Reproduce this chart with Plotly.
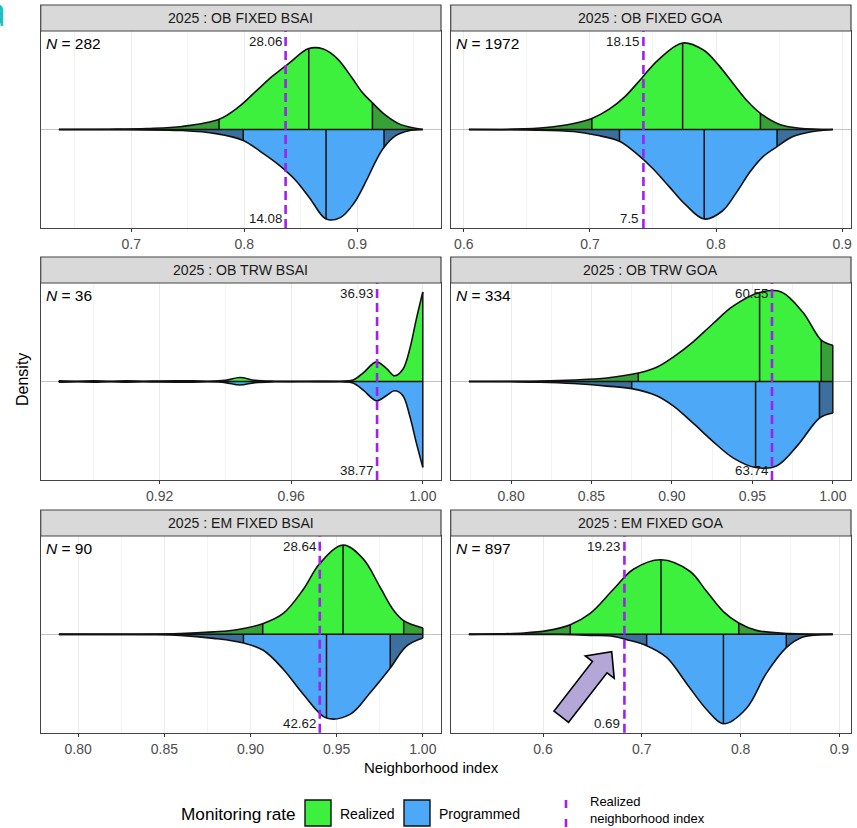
import plotly.graph_objects as go

# ---------------------------------------------------------------------------
# Data: density knots (x = neighborhood index, d = relative density) for the
# realized (upper half) and programmed (lower half) monitoring rates.
# Quantile lists hold the 2.5 %, 50 % and 97.5 % positions.
# ---------------------------------------------------------------------------
PANEL_TITLES = ["2025 : OB FIXED BSAI", "2025 : OB FIXED GOA",
                "2025 : OB TRW BSAI", "2025 : OB TRW GOA",
                "2025 : EM FIXED BSAI", "2025 : EM FIXED GOA"]
PANEL_N = [282, 1972, 36, 334, 90, 897]
REALIZED_INDEX = [0.8366, 0.7424, 0.9861, 0.9622, 0.9402, 0.6824]
LABEL_TOP = ["28.06", "18.15", "36.93", "60.55", "28.64", "19.23"]
LABEL_BOTTOM = ["14.08", "7.5", "38.77", "63.74", "42.62", "0.69"]

TICK_VALS = [[0.7, 0.8, 0.9], [0.6, 0.7, 0.8, 0.9], [0.92, 0.96, 1.00],
             [0.80, 0.85, 0.90, 0.95, 1.00], [0.80, 0.85, 0.90, 0.95, 1.00],
             [0.6, 0.7, 0.8, 0.9]]
TICK_TEXT = [["0.7", "0.8", "0.9"], ["0.6", "0.7", "0.8", "0.9"],
             ["0.92", "0.96", "1.00"],
             ["0.80", "0.85", "0.90", "0.95", "1.00"],
             ["0.80", "0.85", "0.90", "0.95", "1.00"],
             ["0.6", "0.7", "0.8", "0.9"]]
MINOR_VALS = [[0.65, 0.75, 0.85, 0.95], [0.65, 0.75, 0.85], [0.90, 0.94, 0.98],
              [0.775, 0.825, 0.875, 0.925, 0.975], [0.825, 0.875, 0.925, 0.975],
              [0.55, 0.65, 0.75, 0.85]]

# OB FIXED BSAI
P1_REAL_X = [0.636, 0.68, 0.714, 0.745, 0.7777, 0.795, 0.81, 0.825, 0.84, 0.8571,
             0.870, 0.8825, 0.895, 0.9046, 0.9134, 0.925, 0.938, 0.958]
P1_REAL_D = [0, 0.3, 1, 3, 10, 22, 37, 52, 65, 79, 78.5, 69, 51, 36, 26, 14, 5, 0]
P1_PROG_X = [0.636, 0.70, 0.745, 0.775, 0.7991, 0.815, 0.83, 0.845, 0.858, 0.8724,
             0.885, 0.897, 0.908, 0.9163, 0.9237, 0.934, 0.9456, 0.958]
P1_PROG_D = [0, 0.3, 1, 4, 10.7, 22, 34, 49, 67, 87.4, 86, 72, 50, 31, 17.4, 6, 1.3, 0]
P1_REAL_Q = [0.7777, 0.8571, 0.9134]
P1_PROG_Q = [0.7991, 0.8724, 0.9237]

# OB FIXED GOA
P2_REAL_X = [0.604, 0.64, 0.665, 0.687, 0.7015, 0.715, 0.728, 0.741, 0.754, 0.7735,
             0.79, 0.802, 0.814, 0.825, 0.8352, 0.8505, 0.8663, 0.8926]
P2_REAL_D = [0, 0.4, 2, 6, 11, 20, 33, 51, 69, 86, 79, 64, 45, 28, 16, 5, 1.3, 0]
P2_PROG_X = [0.604, 0.65, 0.687, 0.7055, 0.7234, 0.737, 0.75, 0.763, 0.776, 0.7906,
             0.805, 0.816, 0.827, 0.8373, 0.8484, 0.861, 0.8768, 0.8926]
P2_PROG_D = [0, 0.5, 2, 5.7, 11.7, 24, 39, 57, 75, 89, 81, 63, 42, 27, 17, 7, 2, 0]
P2_REAL_Q = [0.7015, 0.7735, 0.8352]
P2_PROG_Q = [0.7234, 0.7906, 0.8484]

# OB TRW BSAI
P3_REAL_X = [0.8894, 0.895, 0.90, 0.905, 0.91, 0.915, 0.92, 0.93, 0.935, 0.94, 0.9444,
             0.949, 0.955, 0.965, 0.975, 0.9788, 0.982, 0.9859, 0.989, 0.9914, 0.9939,
             0.996, 0.998, 1.0]
P3_REAL_D = [0.8, 0.3, 0.6, 0.2, 0.6, 0.3, 0.5, 0.6, 0.3, 1.2, 4, 1.2, 0.3, 0.2, 0.3,
             1.5, 9, 19.7, 13, 5.7, 12, 32, 62, 89.7]
P3_PROG_X = [0.8894, 0.895, 0.90, 0.905, 0.91, 0.915, 0.92, 0.93, 0.935, 0.94, 0.9444,
             0.949, 0.955, 0.965, 0.975, 0.9788, 0.982, 0.9859, 0.989, 0.9914, 0.9939,
             0.996, 0.998, 1.0]
P3_PROG_D = [0.8, 0.3, 0.6, 0.2, 0.6, 0.3, 0.5, 0.6, 0.3, 1.1, 3.5, 1.1, 0.3, 0.2, 0.3,
             1.5, 9, 19.3, 14, 9.3, 14, 34, 61, 86]
P3_REAL_Q = []
P3_PROG_Q = []

# OB TRW GOA
P4_REAL_X = [0.7738, 0.80, 0.8182, 0.8388, 0.8595, 0.8791, 0.8905, 0.9008, 0.9132,
             0.9256, 0.938, 0.9545, 0.968, 0.9814, 0.9928, 1.0]
P4_REAL_D = [0, 0.2, 0.5, 1.5, 3.5, 8.3, 14, 24, 39, 57, 74, 87.5, 88, 68, 40.7, 35.7]
P4_PROG_X = [0.7738, 0.80, 0.8182, 0.8388, 0.8595, 0.875, 0.8905, 0.9008, 0.9132,
             0.9256, 0.938, 0.952, 0.965, 0.978, 0.9917, 1.0]
P4_PROG_D = [0, 0.3, 0.7, 2, 4.5, 7, 14, 24, 41, 59, 75, 84.5, 83, 63, 36, 31]
P4_REAL_Q = [0.8791, 0.9545, 0.9928]
P4_PROG_Q = [0.875, 0.952, 0.9917]

# EM FIXED BSAI
P5_REAL_X = [0.7888, 0.8303, 0.8592, 0.8785, 0.892, 0.9071, 0.919, 0.9306, 0.9402,
             0.9537, 0.9653, 0.975, 0.9827, 0.9889, 1.0]
P5_REAL_D = [0, 0.1, 0.7, 2.5, 4.7, 10.7, 21, 45, 71, 89.7, 76, 48, 25, 13.7, 6.3]
P5_PROG_X = [0.7888, 0.84, 0.8592, 0.8785, 0.8959, 0.9074, 0.919, 0.9306, 0.9441,
             0.958, 0.9692, 0.9811, 0.9904, 1.0]
P5_PROG_D = [0, 0.3, 1, 4, 8.7, 16, 35, 60, 84, 80, 59, 33.7, 12, 3.7]
P5_REAL_Q = [0.9071, 0.9537, 0.9889]
P5_PROG_Q = [0.8959, 0.9441, 0.9811]

# EM FIXED GOA
P6_REAL_X = [0.525, 0.5469, 0.5805, 0.604, 0.6276, 0.6478, 0.6713, 0.6915, 0.7194,
             0.7486, 0.7655, 0.7823, 0.7981, 0.8159, 0.8495, 0.8933]
P6_REAL_D = [0, 0.3, 1.3, 3.7, 9.7, 21, 45, 65, 74.5, 63, 43, 23, 11.3, 4, 0.7, 0]
P6_PROG_X = [0.525, 0.6141, 0.6478, 0.6713, 0.6848, 0.7049, 0.7251, 0.7453, 0.7655,
             0.7826, 0.8058, 0.826, 0.8462, 0.863, 0.8933]
P6_PROG_D = [0, 0.2, 1, 2, 5.3, 11.3, 23, 49, 75, 89.3, 74, 39, 13.3, 2.7, 0]
P6_REAL_Q = [0.6276, 0.7194, 0.7981]
P6_PROG_Q = [0.7049, 0.7826, 0.8462]

REAL_X = [P1_REAL_X, P2_REAL_X, P3_REAL_X, P4_REAL_X, P5_REAL_X, P6_REAL_X]
REAL_D = [P1_REAL_D, P2_REAL_D, P3_REAL_D, P4_REAL_D, P5_REAL_D, P6_REAL_D]
PROG_X = [P1_PROG_X, P2_PROG_X, P3_PROG_X, P4_PROG_X, P5_PROG_X, P6_PROG_X]
PROG_D = [P1_PROG_D, P2_PROG_D, P3_PROG_D, P4_PROG_D, P5_PROG_D, P6_PROG_D]
REAL_Q = [P1_REAL_Q, P2_REAL_Q, P3_REAL_Q, P4_REAL_Q, P5_REAL_Q, P6_REAL_Q]
PROG_Q = [P1_PROG_Q, P2_PROG_Q, P3_PROG_Q, P4_PROG_Q, P5_PROG_Q, P6_PROG_Q]

# ---------------------------------------------------------------------------
# Styling / layout helpers (figure is laid out in pixel units)
# ---------------------------------------------------------------------------
W, H = 857, 828
FONT = "Liberation Sans, Arial, sans-serif"
REALIZED_FILL = "#3DF03D"
REALIZED_TAIL = "#37A137"
PROGRAMMED_FILL = "#4DA8F7"
PROGRAMMED_TAIL = "#3C6F9E"
PURPLE = "#A020F0"
OUTLINE = "#111111"
FRAME = "#444444"


def fx(p):
    return p / W


def fy(p):
    return 1 - p / H


COL_PX = [(40.7, 441.0), (450.7, 851.0)]
ROW_PX = [(31.0, 228.0), (283.0, 480.0), (536.0, 732.7)]
STRIP_H = 26.0

fig = go.Figure()
shapes = []
annotations = []
layout_axes = {}


def line_trace(xs, ys, ax, **kw):
    return go.Scatter(x=xs, y=ys, mode="lines", xaxis=ax[0], yaxis=ax[1],
                      hoverinfo="skip", showlegend=False, **kw)


for i in range(6):
    r, c = divmod(i, 2)
    k = i + 1
    sfx = "" if k == 1 else str(k)
    xa, ya = "x" + sfx, "y" + sfx
    x0p, x1p = COL_PX[c]
    y0p, y1p = ROW_PX[r]

    rx, rd = REAL_X[i], REAL_D[i]
    gx, gd = PROG_X[i], PROG_D[i]
    gneg = [-v for v in gd]

    lo = min(rx[0], gx[0])
    hi = max(rx[-1], gx[-1])
    span = hi - lo
    xr = [lo - 0.05 * span, hi + 0.05 * span]
    dmax = max(max(rd), max(gd))
    yr = [-1.1 * dmax, 1.1 * dmax]

    line0 = dict(width=0, shape="spline", smoothing=1.0)

    # tails (darker) = full density, then central part drawn on top
    for xs, ys, qs, tail, fill in ((rx, rd, REAL_Q[i], REALIZED_TAIL, REALIZED_FILL),
                                   (gx, gneg, PROG_Q[i], PROGRAMMED_TAIL, PROGRAMMED_FILL)):
        if qs:
            fig.add_trace(line_trace(xs, ys, (xa, ya), line=line0, fill="tozeroy",
                                     fillcolor=tail))
            mid = [(x, y) for x, y in zip(xs, ys) if qs[0] - 1e-9 <= x <= qs[2] + 1e-9]
            fig.add_trace(line_trace([p[0] for p in mid], [p[1] for p in mid], (xa, ya),
                                     line=line0, fill="tozeroy", fillcolor=fill))
        else:
            fig.add_trace(line_trace(xs, ys, (xa, ya), line=line0, fill="tozeroy",
                                     fillcolor=fill))

    # quantile segments, end edges and the shared baseline
    vx, vy = [], []
    for xs, ys, qs in ((rx, rd, REAL_Q[i]), (gx, gneg, PROG_Q[i])):
        lookup = dict(zip(xs, ys))
        for q in qs:
            vx += [q, q, None]
            vy += [0, lookup[q], None]
        for end in (0, -1):
            if ys[end] != 0:
                vx += [xs[end], xs[end], None]
                vy += [0, ys[end], None]
    vx += [lo, hi]
    vy += [0, 0]
    fig.add_trace(line_trace(vx, vy, (xa, ya), line=dict(color=OUTLINE, width=1.5)))

    # outlines
    for xs, ys in ((rx, rd), (gx, gneg)):
        fig.add_trace(line_trace(xs, ys, (xa, ya),
                                 line=dict(color=OUTLINE, width=1.6, shape="spline",
                                           smoothing=1.0)))

    layout_axes["xaxis" + sfx] = dict(
        domain=[fx(x0p), fx(x1p)], anchor=ya, range=xr,
        tickmode="array", tickvals=TICK_VALS[i], ticktext=TICK_TEXT[i],
        ticks="outside", ticklen=3, tickcolor="#333333", tickwidth=1,
        tickfont=dict(family=FONT, size=14, color="#4D4D4D"),
        showgrid=True, gridcolor="#EBEBEB", gridwidth=1.1,
        minor=dict(tickvals=MINOR_VALS[i], showgrid=True, gridcolor="#F3F3F3",
                   gridwidth=0.8, ticks=""),
        showline=True, mirror=True, linecolor=FRAME, linewidth=1.2,
        zeroline=False, fixedrange=True)
    layout_axes["yaxis" + sfx] = dict(
        domain=[fy(y1p), fy(y0p)], anchor=xa, range=yr,
        showticklabels=False, ticks="", showgrid=False,
        zeroline=True, zerolinecolor="#C4C4C4", zerolinewidth=1.2,
        showline=True, mirror=True, linecolor=FRAME, linewidth=1.2, fixedrange=True)

    # facet strip
    shapes.append(dict(type="rect", xref="paper", yref="paper",
                       x0=fx(x0p), x1=fx(x1p), y0=fy(y0p), y1=fy(y0p - STRIP_H),
                       fillcolor="#D9D9D9", line=dict(color=FRAME, width=1.2),
                       layer="above"))
    annotations.append(dict(xref="paper", yref="paper", x=fx((x0p + x1p) / 2),
                            y=fy(y0p - STRIP_H / 2), text=PANEL_TITLES[i],
                            showarrow=False, xanchor="center", yanchor="middle",
                            font=dict(family=FONT, size=14.1, color="#1A1A1A")))

    # realized neighborhood index
    shapes.append(dict(type="line", xref=xa, yref=f"{ya} domain",
                       x0=REALIZED_INDEX[i], x1=REALIZED_INDEX[i], y0=0, y1=1,
                       line=dict(color=PURPLE, width=2.6, dash="9px,5px"),
                       layer="above"))
    annotations.append(dict(xref=xa, yref=f"{ya} domain", x=REALIZED_INDEX[i], y=0.946,
                            text=LABEL_TOP[i], showarrow=False, xanchor="right",
                            yanchor="middle", xshift=-2,
                            font=dict(family=FONT, size=13.3, color="#1A1A1A")))
    annotations.append(dict(xref=xa, yref=f"{ya} domain", x=REALIZED_INDEX[i], y=0.049,
                            text=LABEL_BOTTOM[i], showarrow=False, xanchor="right",
                            yanchor="middle", xshift=-2,
                            font=dict(family=FONT, size=13.3, color="#1A1A1A")))
    # sample size
    annotations.append(dict(xref=f"{xa} domain", yref=f"{ya} domain", x=0, y=1,
                            text=f"<i>N</i> = {PANEL_N[i]}", showarrow=False,
                            xanchor="left", yanchor="top", xshift=3, yshift=-2,
                            font=dict(family=FONT, size=15.5, color="#000000")))

# axis titles
annotations.append(dict(xref="paper", yref="paper", x=fx(431), y=fy(767),
                        text="Neighborhood index", showarrow=False,
                        xanchor="center", yanchor="middle",
                        font=dict(family=FONT, size=15, color="#000000")))
annotations.append(dict(xref="paper", yref="paper", x=fx(22), y=fy(380),
                        text="Density", showarrow=False, textangle=-90,
                        xanchor="center", yanchor="middle",
                        font=dict(family=FONT, size=16, color="#000000")))

# legend, drawn by hand along the bottom edge
LEG_Y = 813.5
annotations.append(dict(xref="paper", yref="paper", x=fx(298), y=fy(LEG_Y),
                        text="Monitoring rate", showarrow=False, xanchor="right",
                        yanchor="middle", font=dict(family=FONT, size=17.2, color="#000000")))
for bx, fill, label in ((305, REALIZED_FILL, "Realized"), (404, PROGRAMMED_FILL, "Programmed")):
    shapes.append(dict(type="rect", xref="paper", yref="paper",
                       x0=fx(bx), x1=fx(bx + 26), y0=fy(800), y1=fy(826),
                       fillcolor=fill, line=dict(color=OUTLINE, width=1.4)))
    annotations.append(dict(xref="paper", yref="paper", x=fx(bx + 33), y=fy(LEG_Y),
                            text=label, showarrow=False, xanchor="left",
                            yanchor="middle",
                            font=dict(family=FONT, size=14, color="#000000")))
shapes.append(dict(type="line", xref="paper", yref="paper", x0=fx(566), x1=fx(566),
                   y0=fy(800), y1=fy(828),
                   line=dict(color=PURPLE, width=2.6, dash="8px,11px")))
annotations.append(dict(xref="paper", yref="paper", x=fx(588), y=fy(810),
                        text="Realized<br>neighborhood index", showarrow=False,
                        xanchor="left", yanchor="middle", align="left",
                        font=dict(family=FONT, size=13, color="#000000")))

# callout arrow pointing at the programmed tail in the EM FIXED GOA panel
TIP = (611.7, 651.7)
TAIL = (561.3, 716.7)
SHAFT_HALF, HEAD_HALF, HEAD_LEN = 9.2, 18.3, 19.5
dx, dy = TIP[0] - TAIL[0], TIP[1] - TAIL[1]
ln = (dx * dx + dy * dy) ** 0.5
ux, uy = dx / ln, dy / ln
nx, ny = -uy, ux
bx_, by_ = TIP[0] - HEAD_LEN * ux, TIP[1] - HEAD_LEN * uy
pts = [
    (TAIL[0] + SHAFT_HALF * nx, TAIL[1] + SHAFT_HALF * ny),
    (bx_ + SHAFT_HALF * nx, by_ + SHAFT_HALF * ny),
    (bx_ + HEAD_HALF * nx, by_ + HEAD_HALF * ny),
    TIP,
    (bx_ - HEAD_HALF * nx, by_ - HEAD_HALF * ny),
    (bx_ - SHAFT_HALF * nx, by_ - SHAFT_HALF * ny),
    (TAIL[0] - SHAFT_HALF * nx, TAIL[1] - SHAFT_HALF * ny),
]
path = "M " + " L ".join(f"{fx(px_):.5f},{fy(py_):.5f}" for px_, py_ in pts) + " Z"
shapes.append(dict(type="path", xref="paper", yref="paper", path=path,
                   fillcolor="#B4A7D8", line=dict(color="#000000", width=1.6),
                   layer="above"))

# edge of the slide heading
annotations.append(dict(xref="paper", yref="paper", x=fx(8), y=fy(40),
                        text="a", showarrow=False, xanchor="right", yanchor="bottom",
                        font=dict(family="Open Sans", size=40, color="#1DBDBD")))

fig.update_layout(
    width=W, height=H, margin=dict(l=0, r=0, t=0, b=0),
    paper_bgcolor="white", plot_bgcolor="white", showlegend=False,
    shapes=shapes, annotations=annotations, **layout_axes)

fig.write_html("out.html")
